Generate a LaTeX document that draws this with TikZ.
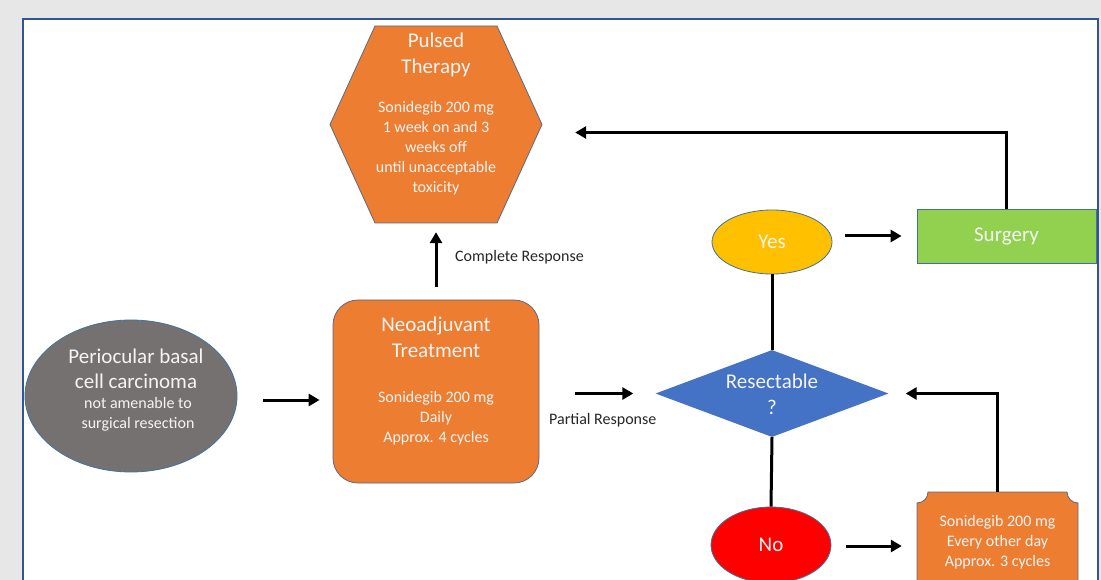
\documentclass[tikz,border=0pt]{standalone}
\usepackage{fontspec}
\setmainfont{Carlito}
\usetikzlibrary{arrows.meta,shapes.geometric}
\definecolor{bg}{HTML}{E7E7E7}
\definecolor{framec}{HTML}{2F5597}
\definecolor{orng}{HTML}{ED7D31}
\definecolor{edgec}{HTML}{5B6B82}
\definecolor{bedge}{HTML}{41719C}
\definecolor{gry}{HTML}{767171}
\definecolor{yel}{HTML}{FFC000}
\definecolor{grn}{HTML}{92D050}
\definecolor{blu}{HTML}{4472C4}
\definecolor{txt}{HTML}{F4F4F4}
\definecolor{lbl}{HTML}{262626}
\begin{document}
\begin{tikzpicture}[x=1pt,y=-1pt,
  conn/.style={line width=3pt,-{Triangle[length=11pt,width=12pt]}},
  plainline/.style={line width=3pt},
  big/.style={font=\fontsize{21}{25.5}\selectfont,text=txt,align=center,inner sep=0pt},
  small/.style={font=\fontsize{16}{20}\selectfont,text=txt,align=center,inner sep=0pt},
  lab/.style={font=\fontsize{16}{18}\selectfont,text=lbl,inner sep=0pt},
  shapeedge/.style={draw=bedge,line width=0.8pt},
  ghost/.style={rectangle,inner sep=0pt}
  ]
\fill[bg] (0,0) rectangle (1101,580);
\clip (0,0) rectangle (1101,580);
\draw[framec,line width=1.5pt,fill=white] (23,19) rectangle (1098,640);

% hexagon
\draw[fill=orng,draw=edgec,line width=0.8pt] (375,26) -- (497,26) -- (542,124.5) -- (497,223) -- (375,223) -- (330,124.5) -- cycle;
\node[ghost,minimum width=212pt,minimum height=197pt] (hex) at (436,124.5) {};
\node[big] (hextitle) at (436,55) {Pulsed\\Therapy};
\node[small] (hexbody) at (436,148) {Sonidegib 200 mg\\1 week on and 3\\weeks off\\until unacceptable\\toxicity};

% periocular
\node[ellipse,fill=gry,shapeedge,minimum width=212pt,minimum height=152pt,inner sep=0pt] (perio) at (131,396) {};
\node[big] (periotitle) at (136,369) {Periocular basal\\cell carcinoma};
\node[small] (periobody) at (138,414) {not amenable to\\surgical resection};

% neoadjuvant
\node[rectangle,rounded corners=25pt,fill=orng,draw=edgec,line width=0.8pt,minimum width=206pt,minimum height=183pt,inner sep=0pt] (neo) at (436,391.5) {};
\node[big] (neotitle) at (436,337.5) {Neoadjuvant\\Treatment};
\node[small] (neobody) at (436,418) {Sonidegib 200 mg\\Daily\\Approx. 4 cycles};

% diamond
\node[diamond,fill=blu,minimum width=233pt,minimum height=87pt,inner sep=0pt] (dia) at (772,393.5) {};
\node[big] (diatext) at (772,394.5) {Resectable\\?};

% yes / no
\node[ellipse,fill=yel,shapeedge,minimum width=120pt,minimum height=64pt,inner sep=0pt,big] (yes) at (772,242) {Yes};
\node[ellipse,fill=red,shapeedge,minimum width=120pt,minimum height=76pt,inner sep=0pt,big] (no) at (771,545) {No};

% surgery
\node[rectangle,fill=grn,shapeedge,minimum width=179pt,minimum height=54pt,big] (surgery) at (1006.5,236) {Surgery};

% plaque box
\draw[fill=orng,draw=edgec,line width=0.8pt]
  (928,492) -- (1067,492) arc[start angle=180,end angle=90,radius=11]
  -- (1078,584) arc[start angle=270,end angle=180,radius=11]
  -- (928,595) arc[start angle=0,end angle=-90,radius=11]
  -- (917,503) arc[start angle=90,end angle=0,radius=11] -- cycle;
\node[ghost,minimum width=161pt,minimum height=103pt] (box) at (997.5,543.5) {};
\node[small] (boxtext) at (997.5,542) {Sonidegib 200 mg\\Every other day\\Approx. 3 cycles};

% connectors
\draw[conn,shorten <=26pt,shorten >=13pt] ([yshift=-4pt]perio.east) -- ([yshift=-4pt]perio.east -| neo.west);
\draw[conn,shorten <=13pt,shorten >=9pt] (neo.north) -- (neo.north |- hex.south);
\draw[conn,shorten <=36pt,shorten >=22pt] (dia.west -| neo.east) -- (dia.west);
\draw[conn,shorten <=13pt,shorten >=15pt] (yes.east |- surgery.west) -- (surgery.west);
\draw[plainline] (yes.south) -- (dia.north);
\draw[plainline] (dia.south) -- (no.north);
\draw[conn,shorten <=15pt,shorten >=15pt] ([yshift=-1pt]no.east) -- ([yshift=-1pt]no.east -| box.west);
\draw[conn,shorten >=17pt] (box.north) |- (dia.east);
\draw[conn,shorten >=33pt] (surgery.north) |- ([yshift=-8pt]hex.east);

% labels
\node[lab,anchor=west] (complete) at (455,257) {Complete Response};
\node[lab,anchor=west] (partial) at (549,420) {Partial Response};
\end{tikzpicture}
\end{document}
